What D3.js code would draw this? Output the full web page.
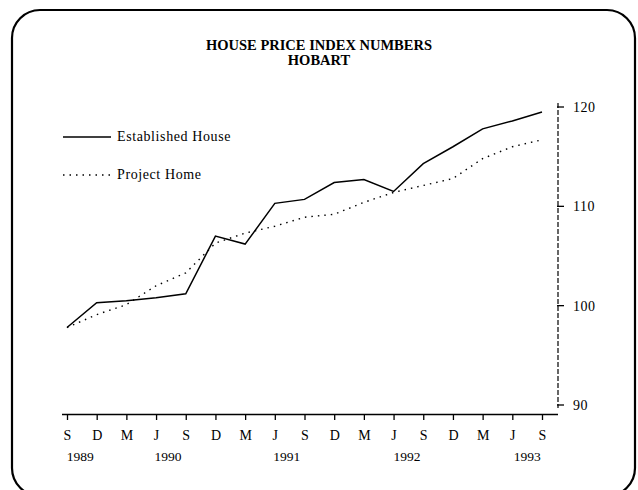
<!DOCTYPE html>
<html lang="en">
	<head>
		<meta charset="utf-8">
		<title>House Price Index Numbers - Hobart</title>
		<script type="text/javascript" src="https://cdn.jsdelivr.net/npm/d3@7"></script>
		<style type="text/css">
			body { margin: 0; background: #fff; }
			text { font-family: "Liberation Serif", "DejaVu Serif", serif; fill: #000; }
		</style>
	</head>
	<body>
		<script type="text/javascript">

			//Width and height
			var w = 638;
			var h = 490;

			// quarters, Sep 1989 .. Sep 1993
			var months = ["S","D","M","J","S","D","M","J","S","D","M","J","S","D","M","J","S"];
			var years = ["1989","1990","1991","1992","1993"];
			var yearPos = [0.45, 3.4, 7.4, 11.45, 15.5];   // position along the quarter index
			var established = [97.8,100.3,100.5,100.8,101.2,107.0,106.2,110.3,110.7,112.4,112.7,111.5,114.3,116.0,117.8,118.6,119.5];
			var projectHome = [97.8,99.1,100.1,102.0,103.3,106.3,107.3,108.0,108.9,109.2,110.4,111.4,112.1,112.8,114.8,116.0,116.7];
			var yTicks = [90,100,110,120];

			var svg = d3.select("body")
						.append("svg")
						.attr("width", w)
						.attr("height", h);

			// rounded frame
			svg.append("rect")
				.attr("x", 12).attr("y", 10)
				.attr("width", 623).attr("height", 486)
				.attr("rx", 28).attr("ry", 28)
				.attr("fill", "none")
				.attr("stroke", "#000")
				.attr("stroke-width", 2.2);

			// title
			svg.append("text")
				.attr("x", 319).attr("y", 50)
				.attr("text-anchor", "middle")
				.attr("font-weight", "bold")
				.attr("font-size", 14.5)
				.text("HOUSE PRICE INDEX NUMBERS");
			svg.append("text")
				.attr("x", 319).attr("y", 65)
				.attr("text-anchor", "middle")
				.attr("font-weight", "bold")
				.attr("font-size", 14.5)
				.text("HOBART");

			//scales
			var x = d3.scaleLinear()
						.domain([0, months.length - 1])
						.range([67, 542]);
			var y = d3.scaleLinear()
						.domain([90, 120])
						.range([405, 107]);

			// bottom axis
			var xAxis = d3.axisBottom(x)
						.tickValues(d3.range(months.length))
						.tickSize(6)
						.tickPadding(10)
						.tickFormat(function(d) { return months[d]; });

			var gx = svg.append("g")
						.attr("transform", "translate(0,414)")
						.call(xAxis);
			gx.select(".domain")
				.attr("d", "M62,0.5H558")
				.attr("stroke-width", 1.3);
			gx.selectAll(".tick line").attr("stroke-width", 1.3);
			gx.selectAll(".tick text")
				.attr("font-family", "Liberation Serif, serif")
				.attr("font-size", 14);

			svg.selectAll(".year")
				.data(years)
				.enter()
				.append("text")
				.attr("class", "year")
				.attr("x", function(d, i) { return x(yearPos[i]); })
				.attr("y", 461)
				.attr("text-anchor", "middle")
				.attr("font-size", 13.5)
				.text(function(d) { return d; });

			// right axis (ticks point left toward the plot, labels on the right)
			var gy = svg.append("g").attr("transform", "translate(558,0)");
			gy.append("line")
				.attr("x1", 0).attr("x2", 0)
				.attr("y1", y(120) - 4).attr("y2", y(90) + 3)
				.attr("stroke", "#000")
				.attr("stroke-width", 1.2)
				.attr("stroke-dasharray", "5,2");
			gy.selectAll(".ytick")
				.data(yTicks)
				.enter()
				.append("line")
				.attr("x1", -1).attr("x2", 6)
				.attr("y1", function(d) { return y(d); })
				.attr("y2", function(d) { return y(d); })
				.attr("stroke", "#000")
				.attr("stroke-width", 1.3);
			gy.selectAll(".ylab")
				.data(yTicks)
				.enter()
				.append("text")
				.attr("x", 15)
				.attr("y", function(d) { return y(d) + 5; })
				.attr("font-size", 14)
				.attr("letter-spacing", 0.5)
				.text(function(d) { return d; });

			//lines
			var line = d3.line()
						.x(function(d, i) { return x(i); })
						.y(function(d) { return y(d); });

			svg.append("path")
				.datum(projectHome)
				.attr("d", line)
				.attr("fill", "none")
				.attr("stroke", "#000")
				.attr("stroke-width", 1.4)
				.attr("stroke-dasharray", "1.5,5");

			svg.append("path")
				.datum(established)
				.attr("d", line)
				.attr("fill", "none")
				.attr("stroke", "#000")
				.attr("stroke-width", 1.5);

			// legend
			var legend = [
				{ label: "Established House", dash: null, y: 137 },
				{ label: "Project Home", dash: "1.5,5", y: 175 }
			];
			var lg = svg.selectAll(".legend")
						.data(legend)
						.enter()
						.append("g");
			lg.append("line")
				.attr("x1", 63).attr("x2", 111)
				.attr("y1", function(d) { return d.y; })
				.attr("y2", function(d) { return d.y; })
				.attr("stroke", "#000")
				.attr("stroke-width", 1.4)
				.attr("stroke-dasharray", function(d) { return d.dash; });
			lg.append("text")
				.attr("x", 117)
				.attr("y", function(d) { return d.y + 4; })
				.attr("font-size", 14)
				.attr("letter-spacing", 0.6)
				.text(function(d) { return d.label; });

		</script>
	</body>
</html>
